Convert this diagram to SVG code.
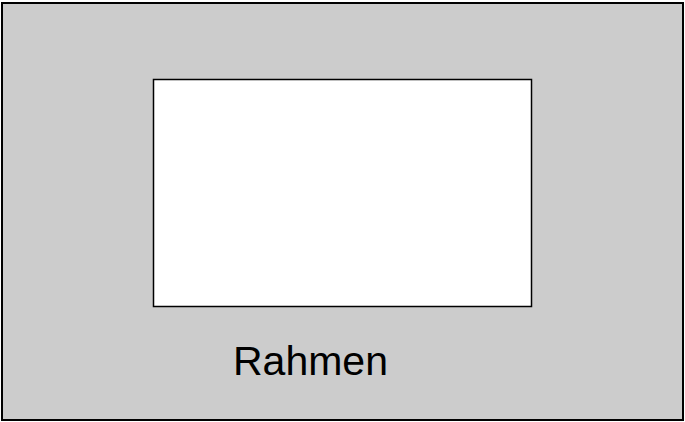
<svg xmlns="http://www.w3.org/2000/svg" width="685" height="422" viewBox="0 0 685 422">
<style>
.frame{fill:#cccccc;stroke:#000;stroke-width:2}
.inner{fill:#fff;stroke:#000;stroke-width:1.5}
.lbl{font-family:"Liberation Sans",Arial,sans-serif;font-size:41px;fill:#000}
</style>
<rect width="685" height="422" fill="#fff"/>
<g id="rahmen">
<rect class="frame" x="2" y="3" width="681" height="417"/>
<text class="lbl" x="310.5" y="375" text-anchor="middle">Rahmen</text>
</g>
<g id="inner">
<rect class="inner" x="153.5" y="79.5" width="378" height="227"/>
</g>
<g id="connectors"></g>
</svg>
